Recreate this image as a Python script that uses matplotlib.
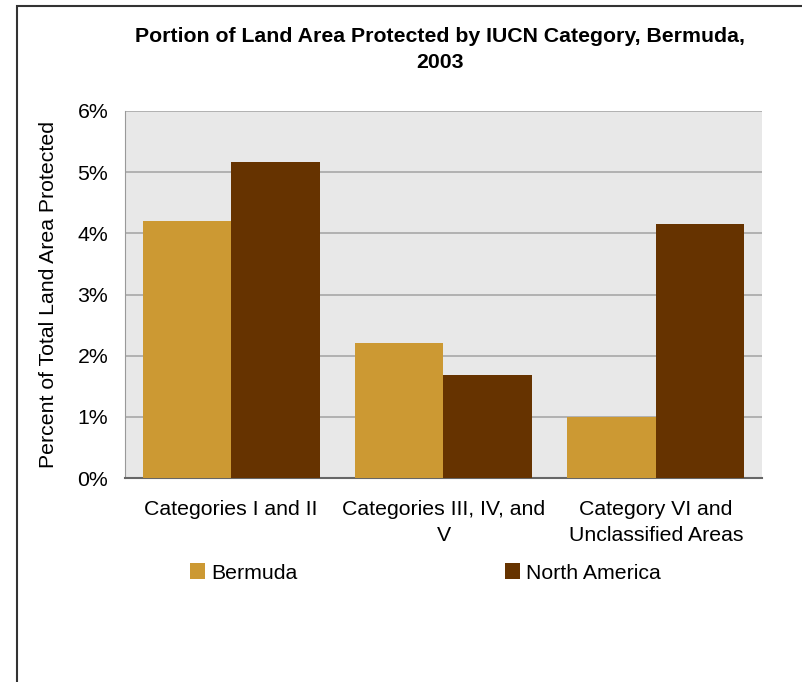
import matplotlib
matplotlib.use("Agg")
import matplotlib.pyplot as plt
import matplotlib.patches as mpatches
import numpy as np

plt.rcParams['font.family'] = ['Liberation Sans', 'DejaVu Sans']

categories = ["Categories I and II", "Categories III, IV, and\nV", "Category VI and\nUnclassified Areas"]
bermuda = [4.2, 2.2, 1.0]
north_america = [5.17, 1.68, 4.15]
series_names = ["Bermuda", "North America"]
colors = ["#CC9933", "#663300"]

fs = 15.3

fig = plt.figure(figsize=(8.03, 6.82), dpi=100)
ax = fig.add_axes([125/803, 1-478/682, 637/803, 367/682])

x = np.arange(len(categories))
w = 1/2.4
ax.bar(x - w/2, bermuda, w, color=colors[0], label=series_names[0], zorder=3)
ax.bar(x + w/2, north_america, w, color=colors[1], label=series_names[1], zorder=3)

ax.set_facecolor("#E8E8E8")
ax.set_xlim(-0.5, 2.5)
ax.set_ylim(0, 6)
ax.set_yticks(range(0, 7))
ax.set_yticklabels([f"{v}%" for v in range(0, 7)], fontsize=fs)
ax.yaxis.grid(True, color="#A8A8A8", lw=1.2, zorder=0)
ax.set_xticks(x)
ax.set_xticklabels(categories, fontsize=fs, linespacing=1.48)
ax.tick_params(axis="both", length=0)
ax.tick_params(axis="y", pad=12)
ax.tick_params(axis="x", pad=16)
for s in ["top", "right"]:
    ax.spines[s].set_visible(False)
ax.spines["left"].set_color("#999999")
ax.spines["bottom"].set_color("#666666")
ax.spines["bottom"].set_linewidth(1.5)
ax.set_ylabel("Percent of Total Land Area Protected", fontsize=fs, labelpad=14)

fig.text(440/803, 1-37/682, "Portion of Land Area Protected by IUCN Category, Bermuda,",
         ha="center", va="center", fontsize=15.3, fontweight="bold")
fig.text(440/803, 1-62/682, "2003", ha="center", va="center", fontsize=15.3, fontweight="bold")

leg = ax.legend(loc="center left", bbox_to_anchor=(190/803, 1-573/682), bbox_transform=fig.transFigure,
                ncol=2, frameon=False, fontsize=fs, handlelength=0.72, handleheight=0.72,
                handletextpad=0.3, columnspacing=9.73, borderpad=0, borderaxespad=0)

border = mpatches.Rectangle((17.5/803, -0.1), 1.2, (676/682)+0.1, transform=fig.transFigure,
                            fill=False, edgecolor="#333333", lw=1.5, clip_on=False)
fig.patches.append(border)

fig.savefig("out.png", dpi=100)
